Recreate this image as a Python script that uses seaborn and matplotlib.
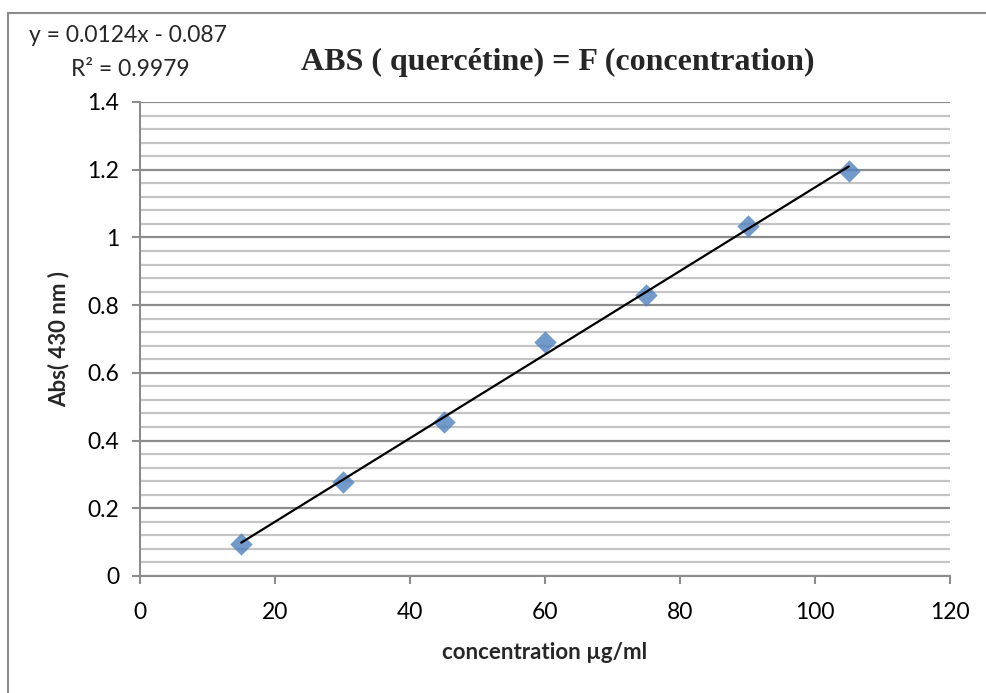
import numpy as np
import pandas as pd
import matplotlib
matplotlib.use("Agg")
import matplotlib.pyplot as plt
from matplotlib.patches import Rectangle
from matplotlib.ticker import MultipleLocator
import seaborn as sns

# Data
concentration = [15, 30, 45, 60, 75, 90, 105]
absorbance = [0.095, 0.279, 0.455, 0.691, 0.829, 1.033, 1.196]
x_ticks = [0, 20, 40, 60, 80, 100, 120]
y_ticks = [0, 0.2, 0.4, 0.6, 0.8, 1.0, 1.2, 1.4]
y_tick_labels = ["0", "0.2", "0.4", "0.6", "0.8", "1", "1.2", "1.4"]
title_text = "ABS ( quercétine) = F (concentration)"
xlabel_text = "concentration µg/ml"
ylabel_text = "Abs( 430 nm )"
eq_text = "y = 0.0124x - 0.087"
r2_text = "R² = 0.9979"

sns.set_theme(style="white")
plt.rcParams["font.family"] = ["Lato", "DejaVu Sans"]

df = pd.DataFrame({"conc": concentration, "abs": absorbance})

fig = plt.figure(figsize=(9.86, 6.93), dpi=100)
ax = fig.add_axes([140 / 986, 1 - 576 / 693, 810 / 986, 474 / 693])

# outer chart border
fig.patches.append(Rectangle((8 / 986, -0.05), 1.2, (693 - 13) / 693 + 0.05,
                             transform=fig.transFigure, fill=False,
                             edgecolor="#8c8c8c", linewidth=1.5, zorder=0))

ax.set_xlim(0, 120)
ax.set_ylim(0, 1.4)
ax.yaxis.set_major_locator(MultipleLocator(0.2))
ax.yaxis.set_minor_locator(MultipleLocator(0.04))
ax.set_xticks(x_ticks)
ax.set_xticklabels([str(t) for t in x_ticks])
ax.set_yticks(y_ticks)
ax.set_yticklabels(y_tick_labels)

ax.grid(which="minor", axis="y", color="#c4c4c4", linewidth=1.6, zorder=0)
ax.grid(which="major", axis="y", color="#8c8c8c", linewidth=1.6, zorder=0)
ax.grid(which="both", axis="x", visible=False)
ax.set_axisbelow(True)

sns.regplot(data=df, x="conc", y="abs", ax=ax, ci=None, marker="D",
            scatter_kws=dict(color="#4f81bd", s=130, linewidths=0, zorder=3),
            line_kws=dict(color="black", linewidth=1.6, zorder=4))

for s in ["top", "right"]:
    ax.spines[s].set_visible(False)
for s in ["left", "bottom"]:
    ax.spines[s].set_color("#8c8c8c")
    ax.spines[s].set_linewidth(1.5)

ax.tick_params(axis="both", which="major", direction="out", length=6, width=1.5,
               color="#8c8c8c", labelsize=16.5, labelcolor="black",
               left=True, bottom=True)
ax.tick_params(axis="y", which="major", pad=9)
ax.tick_params(axis="x", which="major", pad=12.5)
ax.tick_params(axis="y", which="minor", length=0)

ax.set_xlabel(xlabel_text, fontsize=16, fontweight="bold", labelpad=14)
ax.set_ylabel(ylabel_text, fontsize=16, fontweight="bold", labelpad=13)

fig.text(558 / 986, 1 - 62 / 693, title_text, ha="center", va="center",
         fontsize=23, fontweight="bold", family=["Liberation Serif"])
fig.text(128 / 986, 1 - 35 / 693, eq_text, ha="center", va="center", fontsize=16.5)
fig.text(130 / 986, 1 - 70 / 693, r2_text, ha="center", va="center", fontsize=16.5)

fig.savefig("out.png", dpi=100)
